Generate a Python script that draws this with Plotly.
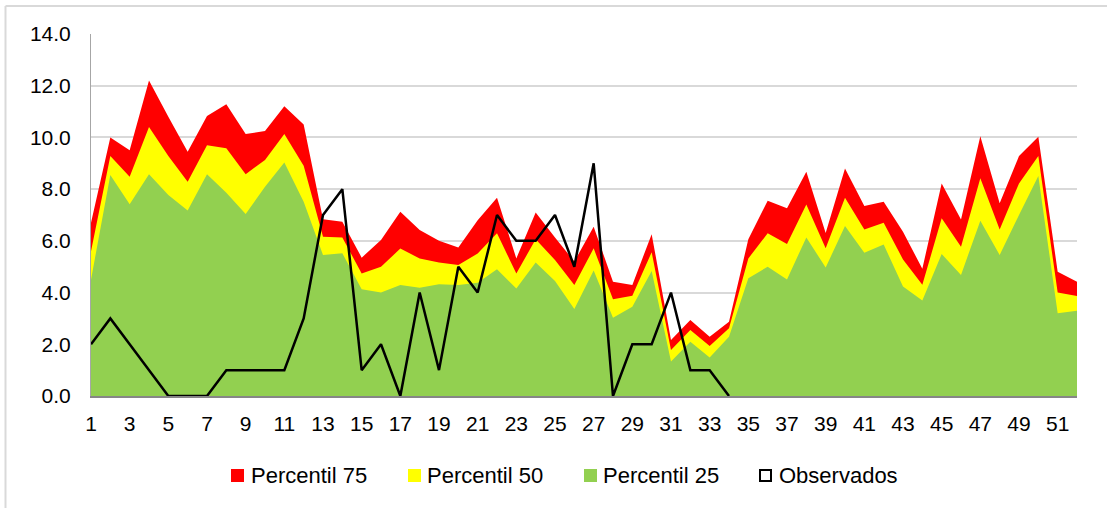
import plotly.graph_objects as go

weeks = list(range(1, 53))
p75 = [6.7, 10.0, 9.5, 12.2, 10.8, 9.45, 10.83, 11.28, 10.13, 10.25, 11.21, 10.5,
       6.84, 6.74, 5.35, 6.03, 7.13, 6.42, 6.0, 5.74, 6.8, 7.67, 5.32, 7.1,
       6.13, 5.2, 6.55, 4.42, 4.29, 6.26, 2.17, 2.94, 2.29, 2.87, 6.06, 7.55,
       7.26, 8.67, 6.3, 8.8, 7.35, 7.51, 6.35, 4.92, 8.22, 6.83, 10.05, 7.45,
       9.28, 10.03, 4.81, 4.42]
p50 = [5.6, 9.28, 8.48, 10.4, 9.28, 8.29, 9.7, 9.58, 8.58, 9.13, 10.13, 8.9,
       6.16, 6.13, 4.74, 5.0, 5.7, 5.32, 5.16, 5.07, 5.51, 6.29, 4.74, 6.06,
       5.26, 4.29, 5.71, 3.74, 3.88, 5.56, 1.78, 2.55, 1.93, 2.62, 5.32, 6.29,
       5.88, 7.41, 5.71, 7.67, 6.44, 6.7, 5.28, 4.3, 6.87, 5.77, 8.42, 6.44,
       8.22, 9.28, 4.0, 3.87]
p25 = [4.5, 8.55, 7.42, 8.58, 7.77, 7.17, 8.58, 7.86, 7.04, 8.09, 9.03, 7.51,
       5.45, 5.52, 4.13, 4.0, 4.29, 4.19, 4.32, 4.29, 4.38, 4.9, 4.16, 5.16,
       4.45, 3.36, 4.85, 3.03, 3.45, 4.83, 1.33, 2.1, 1.49, 2.29, 4.55, 5.0,
       4.51, 6.13, 4.97, 6.57, 5.54, 5.86, 4.23, 3.69, 5.49, 4.68, 6.78, 5.45,
       7.0, 8.51, 3.2, 3.3]
observed = [2, 3, 2, 1, 0, 0, 0, 1, 1, 1, 1, 3, 7, 8, 1, 2, 0, 4, 1, 5, 4, 7,
            6, 6, 7, 5, 9, 0, 2, 2, 4, 1, 1, 0]
obs_weeks = weeks[:len(observed)]

series_names = ["Percentil 75", "Percentil 50", "Percentil 25", "Observados"]
colors = ["#FF0000", "#FFFF00", "#92D050", "#000000"]
xtick_vals = list(range(1, 53, 2))

FONT = "Liberation Sans, Arial, sans-serif"

fig = go.Figure()
for name, vals, col in zip(series_names[:3], [p75, p50, p25], colors[:3]):
    fig.add_trace(go.Scatter(x=weeks, y=vals, mode="lines", fill="tozeroy",
                             fillcolor=col, line=dict(width=0, color=col),
                             name=name, showlegend=False, hoverinfo="x+y"))
fig.add_trace(go.Scatter(x=obs_weeks, y=observed, mode="lines",
                         line=dict(color="#000000", width=2.5),
                         name=series_names[3], showlegend=False))

# plot area geometry in pixels
W, H = 1107, 508
L, R, T, B = 91, 1077, 34, 396
pw, ph = R - L, B - T

def px(xp):
    return (xp - L) / pw

def py(yp):
    return (B - yp) / ph

shapes = []
annotations = []
# outer chart border (left and top visible)
shapes.append(dict(type="line", xref="paper", yref="paper", x0=px(5.5), x1=px(5.5),
                   y0=py(6), y1=py(520), line=dict(color="#D9D9D9", width=2)))
shapes.append(dict(type="line", xref="paper", yref="paper", x0=px(5.5), x1=px(1120),
                   y0=py(6), y1=py(6), line=dict(color="#D9D9D9", width=2)))

# legend
leg_sq_x = [231, 408, 584, 759]
leg_txt_x = [249, 425, 601, 777]
leg_y = 475.5
for i, (name, col) in enumerate(zip(series_names, colors)):
    x0 = leg_sq_x[i]
    if i < 3:
        shapes.append(dict(type="rect", xref="paper", yref="paper",
                           x0=px(x0), x1=px(x0 + 13), y0=py(leg_y - 6.5), y1=py(leg_y + 6.5),
                           fillcolor=col, line=dict(width=0)))
    else:
        shapes.append(dict(type="rect", xref="paper", yref="paper",
                           x0=px(x0 + 1), x1=px(x0 + 12), y0=py(leg_y - 5.5), y1=py(leg_y + 5.5),
                           fillcolor="white", line=dict(color="#000000", width=2)))
    annotations.append(dict(xref="paper", yref="paper", x=px(leg_txt_x[i]), y=py(leg_y),
                            xanchor="left", yanchor="middle", showarrow=False,
                            text=name, font=dict(family=FONT, size=22, color="#000000")))

fig.update_layout(
    width=W, height=H,
    margin=dict(l=L, r=W - R, t=T, b=H - B),
    paper_bgcolor="white", plot_bgcolor="white",
    showlegend=False,
    shapes=shapes, annotations=annotations,
    font=dict(family=FONT, size=21, color="#000000"),
)
fig.update_xaxes(range=[1, 52], tickmode="array", tickvals=xtick_vals,
                 ticktext=[str(v) for v in xtick_vals], showgrid=False, zeroline=False,
                 showline=True, linecolor="#868686", linewidth=2, ticks="",
                 ticklabelstandoff=8, tickfont=dict(family=FONT, size=21, color="#000000"))
fig.update_yaxes(range=[0, 14], dtick=2, tick0=0, tickformat=".1f", showgrid=True,
                 gridcolor="#D9D9D9", gridwidth=2, zeroline=False,
                 showline=True, linecolor="#A6A6A6", linewidth=1, ticks="",
                 ticklabelstandoff=15, tickfont=dict(family=FONT, size=21, color="#000000"))

fig.write_html("out.html", config={"displayModeBar": False},
               post_script="document.body.style.margin='0';document.body.style.overflow='hidden';")
